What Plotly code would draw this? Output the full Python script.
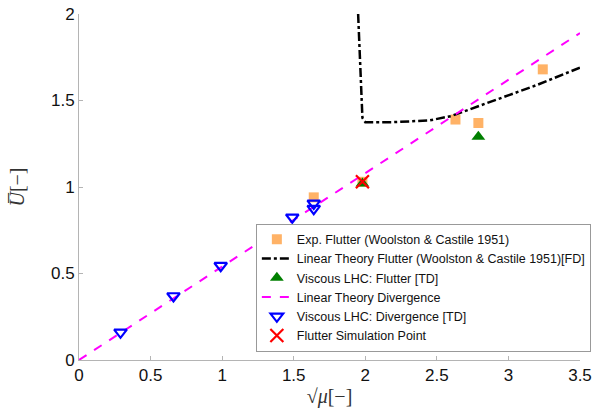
import plotly.graph_objects as go

# Data
exp_x = [1.64, 1.98, 2.63, 2.79, 3.24]
exp_y = [0.94, 1.03, 1.39, 1.37, 1.68]

lin_flutter_x = [1.95, 1.96, 1.97, 1.98, 2.0, 2.2, 2.45, 2.6, 2.8, 3.0, 3.2, 3.5]
lin_flutter_y = [2.0, 1.8, 1.6, 1.40, 1.375, 1.375, 1.385, 1.41, 1.47, 1.53, 1.59, 1.69]

visc_flutter_x = [1.98, 2.79]
visc_flutter_y = [1.02, 1.29]

lin_div_x = [0.0, 3.5]
lin_div_y = [0.0, 1.89]

visc_div_x = [0.29, 0.66, 0.99, 1.49, 1.64, 1.64]
visc_div_y = [0.16, 0.37, 0.545, 0.825, 0.875, 0.905]

sim_x = [1.98]
sim_y = [1.03]

x_ticks = [0, 0.5, 1, 1.5, 2, 2.5, 3, 3.5]
x_tick_labels = ["0", "0.5", "1", "1.5", "2", "2.5", "3", "3.5"]
y_ticks = [0, 0.5, 1, 1.5, 2]
y_tick_labels = ["0", "0.5", "1", "1.5", "2"]

fig = go.Figure()
fig.add_trace(go.Scatter(x=exp_x, y=exp_y, mode="markers",
                         marker=dict(symbol="square", size=10, color="#FFB266"),
                         name="Exp. Flutter (Woolston & Castile 1951)"))
fig.add_trace(go.Scatter(x=lin_flutter_x, y=lin_flutter_y, mode="lines",
                         line=dict(color="black", width=2.5, dash="dashdot"),
                         name="Linear Theory Flutter (Woolston & Castile 1951)[FD]"))
fig.add_trace(go.Scatter(x=visc_flutter_x, y=visc_flutter_y, mode="markers",
                         marker=dict(symbol="triangle-up", size=12, color="#007F00"),
                         name="Viscous LHC: Flutter [TD]"))
fig.add_trace(go.Scatter(x=lin_div_x, y=lin_div_y, mode="lines",
                         line=dict(color="#FF00FF", width=2, dash="dash"),
                         name="Linear Theory Divergence"))
fig.add_trace(go.Scatter(x=visc_div_x, y=visc_div_y, mode="markers",
                         marker=dict(symbol="triangle-down-open", size=11, color="#0000FF",
                                     line=dict(width=2.2)),
                         name="Viscous LHC: Divergence [TD]"))
fig.add_trace(go.Scatter(x=sim_x, y=sim_y, mode="markers",
                         marker=dict(symbol="x-thin-open", size=13, color="#FF0000",
                                     line=dict(width=2.2, color="#FF0000")),
                         name="Flutter Simulation Point"))

axis_common = dict(showgrid=False, zeroline=False, showline=True, linecolor="#b4b4b4",
                   linewidth=1, ticks="inside", ticklen=4, tickcolor="#b4b4b4",
                   tickfont=dict(family="Liberation Sans, Arial", size=17, color="#111"),
                   mirror=False)

fig.update_layout(
    width=611, height=415,
    margin=dict(l=79, r=31, t=14, b=55, autoexpand=False),
    plot_bgcolor="white", paper_bgcolor="white",
    xaxis=dict(range=[0, 3.5], tickvals=x_ticks, ticktext=x_tick_labels,
               title=dict(text="√<i>μ</i>[−]", standoff=4,
                          font=dict(family="Liberation Serif, Times New Roman", size=20, color="#333")),
               **axis_common),
    yaxis=dict(range=[0, 2], tickvals=y_ticks, ticktext=y_tick_labels,
               title=dict(text="<i>U̅</i>[−]", standoff=20,
                          font=dict(family="Liberation Serif, Times New Roman", size=20, color="#333")),
               **axis_common),
    legend=dict(x=0.353, y=0.024, xanchor="left", yanchor="bottom",
                bgcolor="white", bordercolor="#999", borderwidth=1,
                font=dict(family="Liberation Sans, Arial", size=12.5, color="#111"),
                tracegroupgap=0, itemwidth=30),
    showlegend=True,
)

fig.write_html("out.html")
